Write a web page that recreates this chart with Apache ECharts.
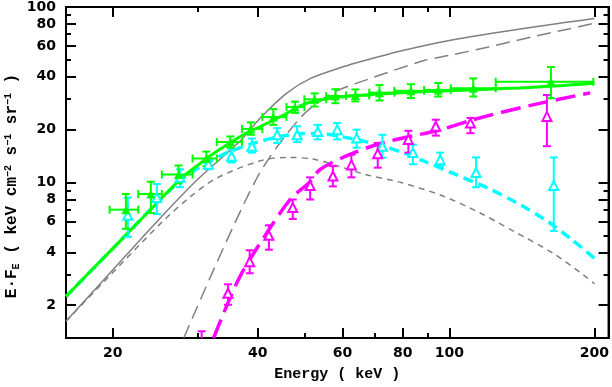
<!DOCTYPE html>
<html><head><meta charset="utf-8">
<script src="https://cdn.jsdelivr.net/npm/echarts@6/dist/echarts.min.js"></script>
<style>html,body{margin:0;padding:0;background:#fff}#c{width:612px;height:387px}</style>
</head><body><div id="c"></div>
<script>
// ---- tick values ----
const xMajorTicks = [20, 40, 60, 80, 100, 200];
const xMinorTicks = [30, 50, 70, 90];
const yMajorTicks = [2, 4, 6, 8, 10, 20, 40, 60, 80, 100];
const yMinorTicks = [3, 5, 7, 9, 30, 50, 70, 90];

// ---- green data (total) ----
const greenE   = [21.3, 24.0, 27.4, 31.3, 35.1, 38.7, 43.1, 47.8, 52.5, 58.0, 63.8, 71.6, 83.2, 94.8, 112.1, 162.5];
const greenF   = [7.0, 8.6, 11.1, 13.7, 17.0, 20.2, 23.6, 26.9, 29.8, 31.1, 31.3, 32.5, 33.3, 33.7, 34.4, 37.5];
const greenFlo = [5.45, 6.7, 9.9, 12.4, 15.8, 18.7, 21.3, 24.9, 27.1, 28.3, 29.0, 29.3, 30.3, 30.9, 30.9, 30.2];
const greenFhi = [8.6, 10.1, 12.5, 15.0, 18.3, 22.0, 26.2, 28.9, 32.2, 34.0, 33.9, 35.9, 36.3, 36.9, 39.2, 45.5];
const greenElo = [19.7, 22.6, 25.3, 29.3, 32.9, 37.1, 40.9, 45.9, 50.0, 55.5, 61.0, 68.2, 76.9, 88.6, 100.7, 124.8];
const greenEhi = [22.6, 25.3, 29.3, 32.9, 37.1, 40.9, 45.9, 50.0, 55.5, 61.0, 68.2, 76.9, 88.6, 100.7, 124.8, 199.0];

// ---- cyan data ----
const cyanE   = [21.5, 24.7, 27.6, 31.6, 35.3, 38.9, 43.9, 48.3, 53.3, 58.5, 64.2, 72.6, 84.0, 95.7, 113.6, 164.7];
const cyanF   = [6.5, 8.2, 10.7, 12.7, 14.1, 16.1, 18.7, 18.7, 19.5, 20.0, 17.9, 16.1, 14.8, 13.5, 11.4, 9.6];
const cyanFlo = [4.9, 6.6, 9.4, 11.9, 13.0, 14.8, 16.8, 17.0, 17.6, 17.6, 15.8, 13.85, 12.7, 12.4, 9.4, 5.3];
const cyanFhi = [8.2, 9.8, 11.9, 13.5, 15.4, 17.8, 20.4, 20.9, 21.3, 21.8, 20.0, 18.7, 16.45, 14.8, 13.9, 13.9];

// ---- magenta data ----
const magE   = [30.6, 34.7, 38.5, 42.2, 47.3, 51.4, 57.3, 62.6, 71.0, 82.2, 93.7, 110.6, 159.4];
const magF   = [1.25, 2.34, 3.54, 5.0, 7.2, 9.6, 10.9, 12.6, 14.6, 17.6, 20.9, 21.8, 23.8];
const magFlo = [1.1, 2.01, 3.04, 4.14, 6.2, 8.0, 9.5, 10.7, 12.15, 14.8, 18.5, 19.1, 16.1];
const magFhi = [1.42, 2.63, 4.11, 5.7, 8.0, 10.7, 12.4, 14.4, 16.8, 19.7, 22.8, 23.3, 31.5];

// ---- model curves ----
const greenModE = [16, 18, 20, 22, 25, 28, 30, 32, 35, 38, 40, 45, 50, 55, 60, 70, 80, 90, 100, 120, 140, 160, 180, 200];
const greenModF = [2.24, 3.13, 4.2, 5.5, 7.9, 10.8, 12.5, 14.3, 16.8, 19.2, 20.5, 24.0, 28.0, 29.8, 30.8, 31.8, 32.5, 33.0, 33.3, 34.0, 34.6, 35.3, 36.0, 36.8];
const cyanModE = [16, 20, 25, 28, 30, 32, 35, 40, 45, 50, 55, 60, 70, 80, 90, 100, 120, 140, 160, 180, 200];
const cyanModF = [2.24, 4.2, 7.9, 10.6, 12.0, 13.3, 15.0, 17.0, 18.4, 19.0, 18.9, 18.2, 16.6, 14.8, 13.0, 11.5, 9.3, 7.5, 6.0, 4.7, 3.7];
const magModE = [32.4, 36.6, 41.9, 46.8, 51.2, 54, 62, 72.5, 96, 112, 149, 196];
const magModF = [1.3, 2.85, 5.22, 8.05, 10.0, 11.9, 14.4, 16.8, 20.0, 22.8, 27.7, 32.4];
const grayTotE = [16, 20, 25, 30, 36.6, 40.5, 45.9, 51.5, 60, 67, 80, 100, 150, 200];
const grayTotF = [1.62, 3.17, 6.2, 10.4, 17.0, 23.3, 32.2, 39.2, 45.5, 49.7, 56.5, 64.5, 77.0, 86.0];
const grayPlE = [16, 19.5, 25.4, 29, 32.9, 40.5, 46, 52, 58.8, 67, 79.4, 96.7, 115, 135, 163, 190, 200];
const grayPlF = [1.62, 2.85, 6.0, 8.3, 10.6, 13.3, 13.9, 13.6, 12.4, 11.1, 10.0, 8.4, 6.77, 5.33, 4.0, 2.97, 2.65];
const grayHiE = [28.1, 39.7, 49, 57, 67, 89, 100, 120, 150, 177, 200];
const grayHiF = [1.3, 10.4, 23.3, 32.2, 38.3, 49.7, 53.0, 59.0, 68.0, 75.0, 81.0];

const GREEN = '#00ff00', CYAN = '#00ffff', MAG = '#ff00ff', GRAY = '#808080';

function pairs(E, F) { return E.map((e, i) => [e, F[i]]); }

function errSeries(rows, color, withX) {
  return {
    type: 'custom', clip: true, z: 5,
    data: rows,
    encode: { x: 0, y: 1 },
    renderItem: function (params, api) {
      const x = api.value(0), y = api.value(1);
      const p = api.coord([x, y]);
      const lo = api.coord([x, api.value(2)]);
      const hi = api.coord([x, api.value(3)]);
      const st = { stroke: color, lineWidth: 2 };
      const c = 4;
      const ch = [
        { type: 'line', shape: { x1: p[0], y1: lo[1], x2: p[0], y2: hi[1] }, style: st },
        { type: 'line', shape: { x1: p[0] - c, y1: lo[1], x2: p[0] + c, y2: lo[1] }, style: st },
        { type: 'line', shape: { x1: p[0] - c, y1: hi[1], x2: p[0] + c, y2: hi[1] }, style: st }
      ];
      if (withX) {
        const xl = api.coord([api.value(4), y]);
        const xh = api.coord([api.value(5), y]);
        ch.push({ type: 'line', shape: { x1: xl[0], y1: p[1], x2: xh[0], y2: p[1] }, style: st });
        ch.push({ type: 'line', shape: { x1: xl[0], y1: p[1] - c, x2: xl[0], y2: p[1] + c }, style: st });
        ch.push({ type: 'line', shape: { x1: xh[0], y1: p[1] - c, x2: xh[0], y2: p[1] + c }, style: st });
      }
      return { type: 'group', children: ch };
    }
  };
}

function lineSeries(E, F, color, width, dash, z) {
  return {
    type: 'line', data: pairs(E, F), showSymbol: false, smooth: 0.3, z: z || 2,
    lineStyle: { color: color, width: width, type: dash || 'solid', cap: 'butt' },
    silent: true, animation: false
  };
}

const tickFont = { fontFamily: 'DejaVu Sans', fontWeight: 'bold', fontSize: 14, color: '#000' };

function xAx(pos, ticks, len, labels) {
  return {
    type: 'log', logBase: 10, min: 16, max: 214, position: pos,
    axisLine: { show: true, lineStyle: { color: '#000', width: 2 } },
    axisTick: { show: true, inside: true, length: len, customValues: ticks, lineStyle: { color: '#000', width: 2 } },
    axisLabel: Object.assign({ show: !!labels, customValues: ticks, margin: 8 }, tickFont),
    splitLine: { show: false }, minorTick: { show: false }, minorSplitLine: { show: false },
    name: labels ? 'Energy ( keV )' : '', nameLocation: 'middle', nameGap: 29,
    nameTextStyle: { fontFamily: 'Liberation Mono', fontWeight: 'bold', fontSize: 15, color: '#000' }
  };
}
function yAx(pos, ticks, len, labels) {
  return {
    type: 'log', logBase: 10, min: 1.3, max: 100, position: pos,
    axisLine: { show: true, lineStyle: { color: '#000', width: 2 } },
    axisTick: { show: true, inside: true, length: len, customValues: ticks, lineStyle: { color: '#000', width: 2 } },
    axisLabel: Object.assign({ show: !!labels, customValues: ticks, margin: 10 }, tickFont),
    splitLine: { show: false }, minorTick: { show: false }, minorSplitLine: { show: false }
  };
}

const chart = echarts.init(document.getElementById('c'), null, { renderer: 'canvas' });
chart.setOption({
  animation: false,
  backgroundColor: '#fff',
  grid: { left: 66, right: 2, top: 6, bottom: 46.5, show: true, borderColor: '#000', borderWidth: 2, backgroundColor: 'transparent' },
  xAxis: [
    xAx('bottom', xMajorTicks, 10, true),
    xAx('bottom', xMinorTicks, 5, false),
    xAx('top', xMajorTicks, 10, false),
    xAx('top', xMinorTicks, 5, false)
  ],
  yAxis: [
    yAx('left', yMajorTicks, 10, true),
    yAx('left', yMinorTicks, 5, false),
    yAx('right', yMajorTicks, 10, false),
    yAx('right', yMinorTicks, 5, false)
  ],
  graphic: [{
    type: 'text', x: 12, y: 186, rotation: Math.PI / 2,
    style: {
      text: '{b|E·F}{s|E}{b| ( keV cm}{p|−2}{b| s}{p|−1}{b| sr}{p|−1}{b| )}',
      align: 'center', verticalAlign: 'middle',
      rich: {
        b: { fontFamily: 'Liberation Mono', fontWeight: 'bold', fontSize: 16, fill: '#000' },
        s: { fontFamily: 'Liberation Mono', fontWeight: 'bold', fontSize: 10, fill: '#000', padding: [8, 0, 0, 0] },
        p: { fontFamily: 'Liberation Mono', fontWeight: 'bold', fontSize: 10, fill: '#000', padding: [0, 0, 8, 0] }
      }
    }
  }],
  series: [
    lineSeries(grayTotE, grayTotF, GRAY, 1.5, 'solid', 1),
    lineSeries(grayPlE, grayPlF, GRAY, 1.5, [6, 5], 1),
    lineSeries(grayHiE, grayHiF, GRAY, 1.5, [14, 7], 1),
    lineSeries(cyanModE, cyanModF, CYAN, 3.5, [10, 6], 2),
    lineSeries(magModE, magModF, MAG, 3.5, [20, 8], 2),
    lineSeries(greenModE, greenModF, GREEN, 3, 'solid', 3),
    errSeries(cyanE.map((e, i) => [e, cyanF[i], cyanFlo[i], cyanFhi[i]]), CYAN, false),
    errSeries(magE.map((e, i) => [e, magF[i], magFlo[i], magFhi[i]]), MAG, false),
    errSeries(greenE.map((e, i) => [e, greenF[i], greenFlo[i], greenFhi[i], greenElo[i], greenEhi[i]]), GREEN, true),
    { type: 'scatter', data: pairs(cyanE, cyanF), symbol: 'triangle', symbolSize: 9, z: 6,
      itemStyle: { color: '#ffffff', borderColor: CYAN, borderWidth: 2, opacity: 1 } },
    { type: 'scatter', data: pairs(magE, magF), symbol: 'triangle', symbolSize: 9, z: 6,
      itemStyle: { color: '#ffffff', borderColor: MAG, borderWidth: 2, opacity: 1 } },
    { type: 'scatter', data: pairs(greenE, greenF), symbol: 'triangle', symbolSize: 9, z: 7,
      itemStyle: { color: GREEN, opacity: 1 } }
  ]
});
</script>
</body></html>
